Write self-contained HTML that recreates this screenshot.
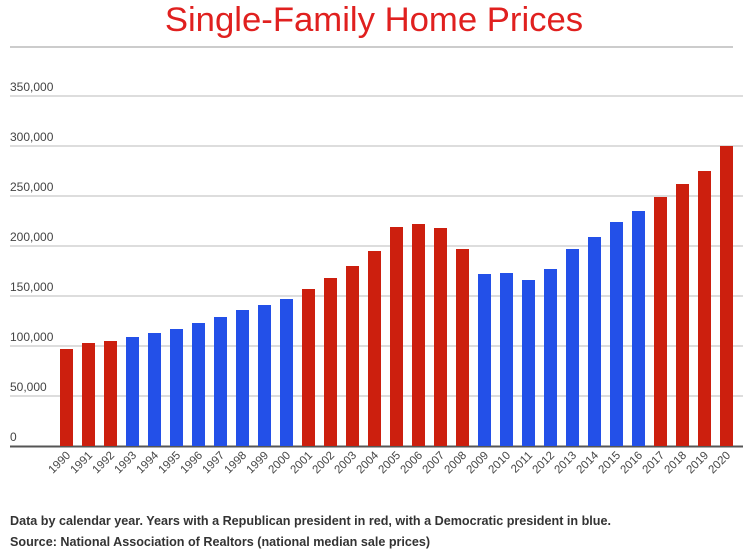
<!DOCTYPE html>
<html><head><meta charset="utf-8"><style>
body{margin:0;background:#fff;width:743px;height:552px;overflow:hidden;font-family:"Liberation Sans",sans-serif}
</style></head><body>
<svg id="c" width="743" height="552">
<text x="374" y="31" text-anchor="middle" font-size="34.7" fill="#e0201f">Single-Family Home Prices</text>
<line x1="10" y1="47" x2="733" y2="47" stroke="#ccc" stroke-width="2"/>
<g id="grid"></g><g id="bars"></g><g id="xl"></g>
<text x="10" y="525" font-size="12.6" font-weight="bold" fill="#333">Data by calendar year. Years with a Republican president in red, with a Democratic president in blue.</text>
<text x="10" y="546" font-size="12.6" font-weight="bold" fill="#333">Source: National Association of Realtors (national median sale prices)</text>
</svg>
<script>
const years=[1990,1991,1992,1993,1994,1995,1996,1997,1998,1999,2000,2001,2002,2003,2004,2005,2006,2007,2008,2009,2010,2011,2012,2013,2014,2015,2016,2017,2018,2019,2020];
const prices=[97000,103000,105000,109000,113000,117000,123000,129000,136000,141000,147000,157000,168000,180000,195000,219000,222000,218000,197000,172000,173000,166000,177000,197000,209000,224000,235000,249000,262000,275000,300000];
const party=["R","R","R","D","D","D","D","D","D","D","D","R","R","R","R","R","R","R","R","D","D","D","D","D","D","D","D","R","R","R","R"];
const ticks=[0,50000,100000,150000,200000,250000,300000,350000];
const tickLabels=["0","50,000","100,000","150,000","200,000","250,000","300,000","350,000"];
const NS="http://www.w3.org/2000/svg";
const y=v=>446-v/1000;
const x=i=>60+i*22;
function mk(t,a,p){const e=document.createElementNS(NS,t);for(const k in a)e.setAttribute(k,a[k]);p.appendChild(e);return e;}
const G=document.getElementById('grid'),B=document.getElementById('bars'),XL=document.getElementById('xl');
ticks.forEach((t,i)=>{
 if(t>0){const l=mk('line',{x1:10,x2:743,y1:y(t),y2:y(t),stroke:'#bbb','stroke-width':1},G);
 
 }
 const tx=mk('text',{x:10,y:y(t)-5,'font-size':12,fill:'#444'},G);tx.textContent=tickLabels[i];
 
 
});
prices.forEach((v,i)=>{
 const r=mk('rect',{x:x(i),y:y(v),width:13,height:446-y(v),fill:party[i]=='R'?'#cc1f0e':'#2350e8'},B);
 
 
 const cx=x(i)+11;
 const t=mk('text',{x:cx,y:456,'font-size':11.5,fill:'#444','text-anchor':'end',transform:`rotate(-45 ${cx} 456)`},XL);
 t.textContent=years[i];
 
 
});
const ax=mk('line',{x1:10,x2:743,y1:446.5,y2:446.5,stroke:'#555','stroke-width':2},G);


</script>
</body></html>
